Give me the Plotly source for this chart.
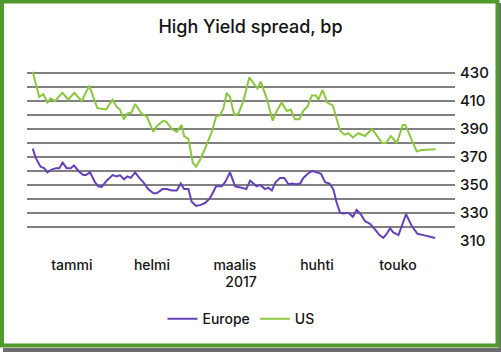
import plotly.graph_objects as go

# Day offsets from 1 Jan 2017 and spread values (bp)
us_day = [0, 1.2, 2.4, 3.9, 5.4, 6.6, 8.2, 10.9, 13.1, 15.3, 18.0, 20.8, 23.8, 27.0, 29.4, 30.9,
          32.1, 33.6, 34.8, 36.4, 37.7, 40.1, 42.0, 44.4, 45.6, 48.1, 49.3, 51.2, 53.0, 54.8,
          55.7, 57.3, 58.9, 60.1, 61.6, 63.4, 65.0, 65.9, 67.5, 68.9, 70.2, 71.4, 72.6, 74.2,
          75.7, 77.5, 79.7, 81.2, 82.7, 83.9, 86.1, 88.3, 89.8, 91.6, 93.5, 95.0, 96.5, 98.1,
          99.6, 101.1, 102.7, 104.3, 105.1, 106.7, 108.4, 110.4, 113.1, 114.7, 116.2, 117.8,
          119.8, 122.3, 124.8, 126.4, 128.5, 130.0, 131.8, 134.0, 136.2, 137.1, 139.5, 141.3,
          143.2, 146.2, 148.3]
us_val = [431, 422, 413, 415, 409, 412, 410, 416, 411, 416, 410, 421, 405, 404, 411, 406,
          404, 397, 401, 402, 408, 401, 399, 388, 392, 396, 395, 390, 388, 393,
          385, 383, 366, 363, 368, 376, 383, 388, 399, 400, 405, 416, 413, 400,
          401, 410, 427, 423, 419, 424, 412, 396, 403, 409, 403, 404, 397, 397,
          403, 406, 414, 414, 411, 418, 409, 407, 389, 386, 387, 384,
          387, 385, 390, 386, 380, 380, 385, 380, 393, 393, 382, 374,
          375, 375, 375.5]

eu_day = [0, 1.2, 2.9, 4.2, 5.4, 7.0, 8.6, 9.8, 11.0, 12.5, 14.0, 15.2, 16.8, 18.6, 19.6, 21.1,
          22.9, 24.1, 25.4, 27.2, 29.4, 30.9, 32.1, 33.6, 34.8, 36.1, 37.7, 39.2, 40.7, 42.5,
          44.4, 45.6, 47.8, 49.3, 51.2, 53.0, 54.5, 55.7, 57.3, 58.5, 60.1, 61.6, 63.4, 65.0,
          65.9, 67.5, 69.6, 70.8, 72.6, 74.5, 76.9, 78.6, 80.0, 82.4, 83.7, 85.5, 86.7, 88.0,
          89.4, 91.0, 92.6, 94.1, 95.3, 97.2, 98.4, 99.6, 101.2, 102.9, 104.5, 106.1, 107.6,
          109.2, 110.6, 111.9, 113.1, 114.3, 116.2, 117.8, 119.2, 120.7, 122.3, 124.2, 126.0,
          127.6, 129.0, 130.3, 131.5, 132.7, 134.6, 137.4, 139.5, 141.6, 143.8, 145.6, 148.1]
eu_val = [376, 369, 363, 362, 359, 361, 362, 362, 366, 362, 362, 364, 360, 357, 357, 359,
          352, 349, 348.6, 353, 357, 356, 357, 354, 356, 355, 359, 355, 352, 347,
          344, 344, 347, 347, 346, 346, 351, 347, 347, 338, 335, 335.5, 337, 340,
          343, 349, 349, 352, 359, 349, 348, 347, 353, 349, 350, 347, 348, 346,
          352, 355, 355, 350.5, 351, 350.5, 351, 355, 358, 360, 359, 358, 352,
          351, 347, 337, 330, 329.5, 330, 327, 332, 329, 324, 322, 318,
          314, 312, 315, 319, 316, 314, 329, 320.5, 315, 314, 313, 312]

month_pos = [14.4, 43.9, 74.4, 104.6, 134.4]
month_labels = ["tammi", "helmi", "maalis", "huhti", "touko"]
y_ticks = [310, 330, 350, 370, 390, 410, 430]
y_minor = [320, 340, 360, 380, 400, 420, 440]

EU_COLOR = "#6541b8"
US_COLOR = "#8dc63f"
GRID = "#808080"
FONT = "Inter"
TXT = "#141414"

fig = go.Figure()
fig.add_trace(go.Scatter(x=eu_day, y=eu_val, mode="lines", name="Europe",
                         line=dict(color=EU_COLOR, width=2)))
fig.add_trace(go.Scatter(x=us_day, y=us_val, mode="lines", name="US",
                         line=dict(color=US_COLOR, width=2)))

fig.update_layout(
    width=501, height=352,
    margin=dict(l=27, r=46, t=59, b=111),
    paper_bgcolor="white", plot_bgcolor="white",
    font=dict(family=FONT, color=TXT, size=14, weight=500),
    title=dict(text="High Yield spread, bp", x=0.5, xanchor="center",
               y=1 - 27 / 352, yanchor="middle",
               font=dict(size=18, family=FONT, weight=500)),
    showlegend=True,
    legend=dict(orientation="h", x=0.5, xref="paper", xanchor="center",
                y=-0.43, yanchor="middle", font=dict(size=14, weight=500), itemwidth=30,
                tracegroupgap=0),
    xaxis=dict(range=[-2.1, 155.4], tickvals=month_pos, ticktext=month_labels,
               showgrid=False, zeroline=False, showline=False, ticks="",
               tickfont=dict(size=14, weight=500), ticklabelstandoff=14,
               title=dict(text="2017", font=dict(size=14, weight=500), standoff=2)),
    yaxis=dict(range=[309.8, 440.2], side="right", tickvals=y_ticks,
               showgrid=True, gridcolor=GRID, gridwidth=1.6, zeroline=False,
               ticks="", tickfont=dict(size=15, weight=500), ticklabelstandoff=4,
               minor=dict(tickvals=y_minor,
                          showgrid=True, gridcolor=GRID, gridwidth=1.6, ticks="")),
)

# Frame around the chart
pw, ph = 501 - 27 - 46, 352 - 59 - 111
def px(x):
    return (x - 27) / pw
def py(y):
    return 1 - (y - 59) / ph
fig.add_shape(type="line", xref="paper", yref="paper", x0=px(500), x1=px(500), y0=py(3), y1=py(352),
              line=dict(color="#6b6b6b", width=2), layer="above")
fig.add_shape(type="line", xref="paper", yref="paper", x0=px(3), x1=px(501), y0=py(350), y1=py(350),
              line=dict(color="#6b6b6b", width=4), layer="above")
fig.add_shape(type="rect", xref="paper", yref="paper", x0=px(2), x1=px(497.5), y0=py(1.5), y1=py(345.5),
              line=dict(color="#4f9a2a", width=4), layer="above")

fig.write_html("out.html")
